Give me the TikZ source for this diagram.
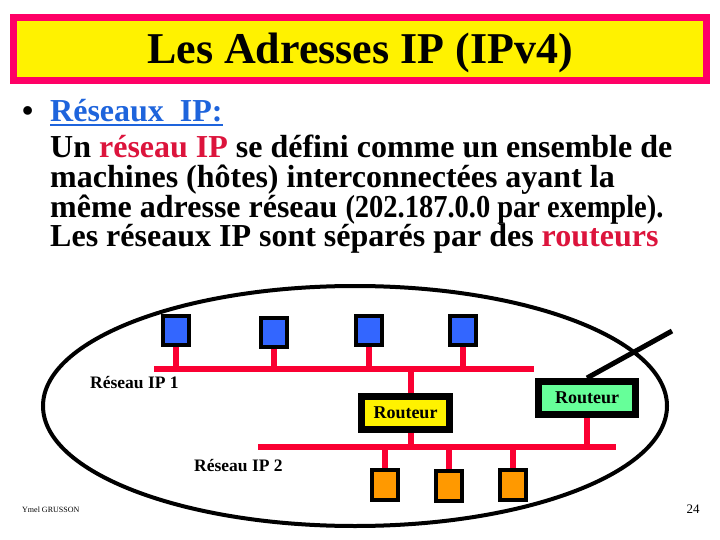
\documentclass[tikz,border=0pt]{standalone}
\usepackage{fontspec}
\setmainfont{Liberation Serif}
\usepackage{xcolor}
\usepackage{graphicx}
\usepackage{tikz}
\usetikzlibrary{positioning,calc}
\definecolor{titlered}{RGB}{255,0,102}
\definecolor{busred}{RGB}{250,0,50}
\definecolor{textred}{RGB}{220,20,60}
\definecolor{headblue}{RGB}{30,100,220}
\definecolor{hostblue}{RGB}{51,102,255}
\definecolor{hostorange}{RGB}{255,153,0}
\definecolor{routergreen}{RGB}{102,255,153}
\tikzset{
  bodytext/.style={anchor=base west, inner sep=0pt, font=\bfseries\fontsize{32}{36}\selectfont},
  host/.style={rectangle, draw=black, line width=4pt, inner sep=0pt, minimum width=26pt, minimum height=29pt},
  bluehost/.style={host, fill=hostblue},
  orangehost/.style={host, fill=hostorange, minimum height=30pt},
  router/.style={rectangle, draw=black, line width=7pt, inner sep=0pt, minimum height=33pt, font=\bfseries\fontsize{18}{20}\selectfont},
  bus/.style={busred, line width=6pt},
  netlabel/.style={anchor=base west, inner sep=0pt, font=\bfseries\fontsize{17.5}{20}\selectfont},
}

\begin{document}
\begin{tikzpicture}[x=1pt, y=-1pt]
  \useasboundingbox (0,0) rectangle (720,540);

  % Title banner
  \node[draw=titlered, line width=7pt, fill=yellow, minimum width=693pt, minimum height=63pt, inner sep=0pt] (title) at (360,49) {};
  \node[anchor=base, inner sep=0pt, font=\bfseries\fontsize{44}{48}\selectfont] (titletext) at (360,64) {Les Adresses IP (IPv4)};

  % Bullet text
  \node[bodytext] (bullet) at (22,122) {\textbullet};
  \node[bodytext, text=headblue] (head) at (50,122) {Réseaux\ \ IP:};
  \draw[headblue, line width=2.5pt] ([yshift=-3pt]head.base west) -- ([yshift=-3pt]head.base east);
  \node[bodytext] (line1) at (50,158) {Un \textcolor{textred}{réseau IP} se défini comme un ensemble de};
  \node[bodytext] (line2) at (50,188) {machines (hôtes) interconnectées ayant la};
  \node[bodytext] (line3) at (50,218) {même adresse réseau \scalebox{0.89}[1]{(202.187.0.0 par exemple).}};
  \node[bodytext] (line4) at (50,247) {Les réseaux IP sont séparés par des \textcolor{textred}{routeurs}};

  % Network outline
  \draw[line width=4pt] (355,406) ellipse [x radius=312, y radius=120];

  % Network 1 hosts
  \node[bluehost] (hA) at (176,330) {};
  \node[bluehost] (hB) at (274,332) {};
  \node[bluehost] (hC) at (369,330) {};
  \node[bluehost] (hD) at (463,330) {};

  % Routers
  \node[router, fill=yellow, minimum width=88pt] (rtA) at (405.5,413) {Routeur};
  \node[router, fill=routergreen, minimum width=97pt] (rtB) at (587,398) {Routeur};

  % Network 2 hosts
  \node[orangehost] (hE) at (385,485) {};
  \node[orangehost] (hF) at (449,486) {};
  \node[orangehost] (hG) at (513,485) {};

  % Buses
  \coordinate (busAw) at (154,369);
  \coordinate (busAe) at (534,369);
  \coordinate (busBw) at (258,447);
  \coordinate (busBe) at (616,447);
  \coordinate (wan) at (672,331);
  \draw[bus] (busAw) -- (busAe);
  \draw[bus] (busBw) -- (busBe);

  % Connections
  \draw[bus] (hA.south) -- (hA.south |- busAw);
  \draw[bus] (hB.south) -- (hB.south |- busAw);
  \draw[bus] (hC.south) -- (hC.south |- busAw);
  \draw[bus] (hD.south) -- (hD.south |- busAw);
  \draw[bus] ([xshift=5pt]rtA.north) -- ([xshift=5pt]rtA.north |- busAw);
  \draw[bus] ([xshift=5pt]rtA.south) -- ([xshift=5pt]rtA.south |- busBw);
  \draw[bus] (rtB.south) -- (rtB.south |- busBw);
  \draw[bus] (hE.north) -- (hE.north |- busBw);
  \draw[bus] (hF.north) -- (hF.north |- busBw);
  \draw[bus] (hG.north) -- (hG.north |- busBw);
  \draw[line width=5pt] (rtB.north) -- (wan);

  % Labels
  \node[netlabel] (netA) at (90,388) {Réseau IP 1};
  \node[netlabel] (netB) at (194,471) {Réseau IP 2};
  \node[anchor=base west, inner sep=0pt, font=\fontsize{8}{9}\selectfont] (author) at (22,512) {Ymel GRUSSON};
  \node[anchor=base, inner sep=0pt, font=\fontsize{13}{14}\selectfont] (page) at (693,513) {24};

\end{tikzpicture}
\end{document}
